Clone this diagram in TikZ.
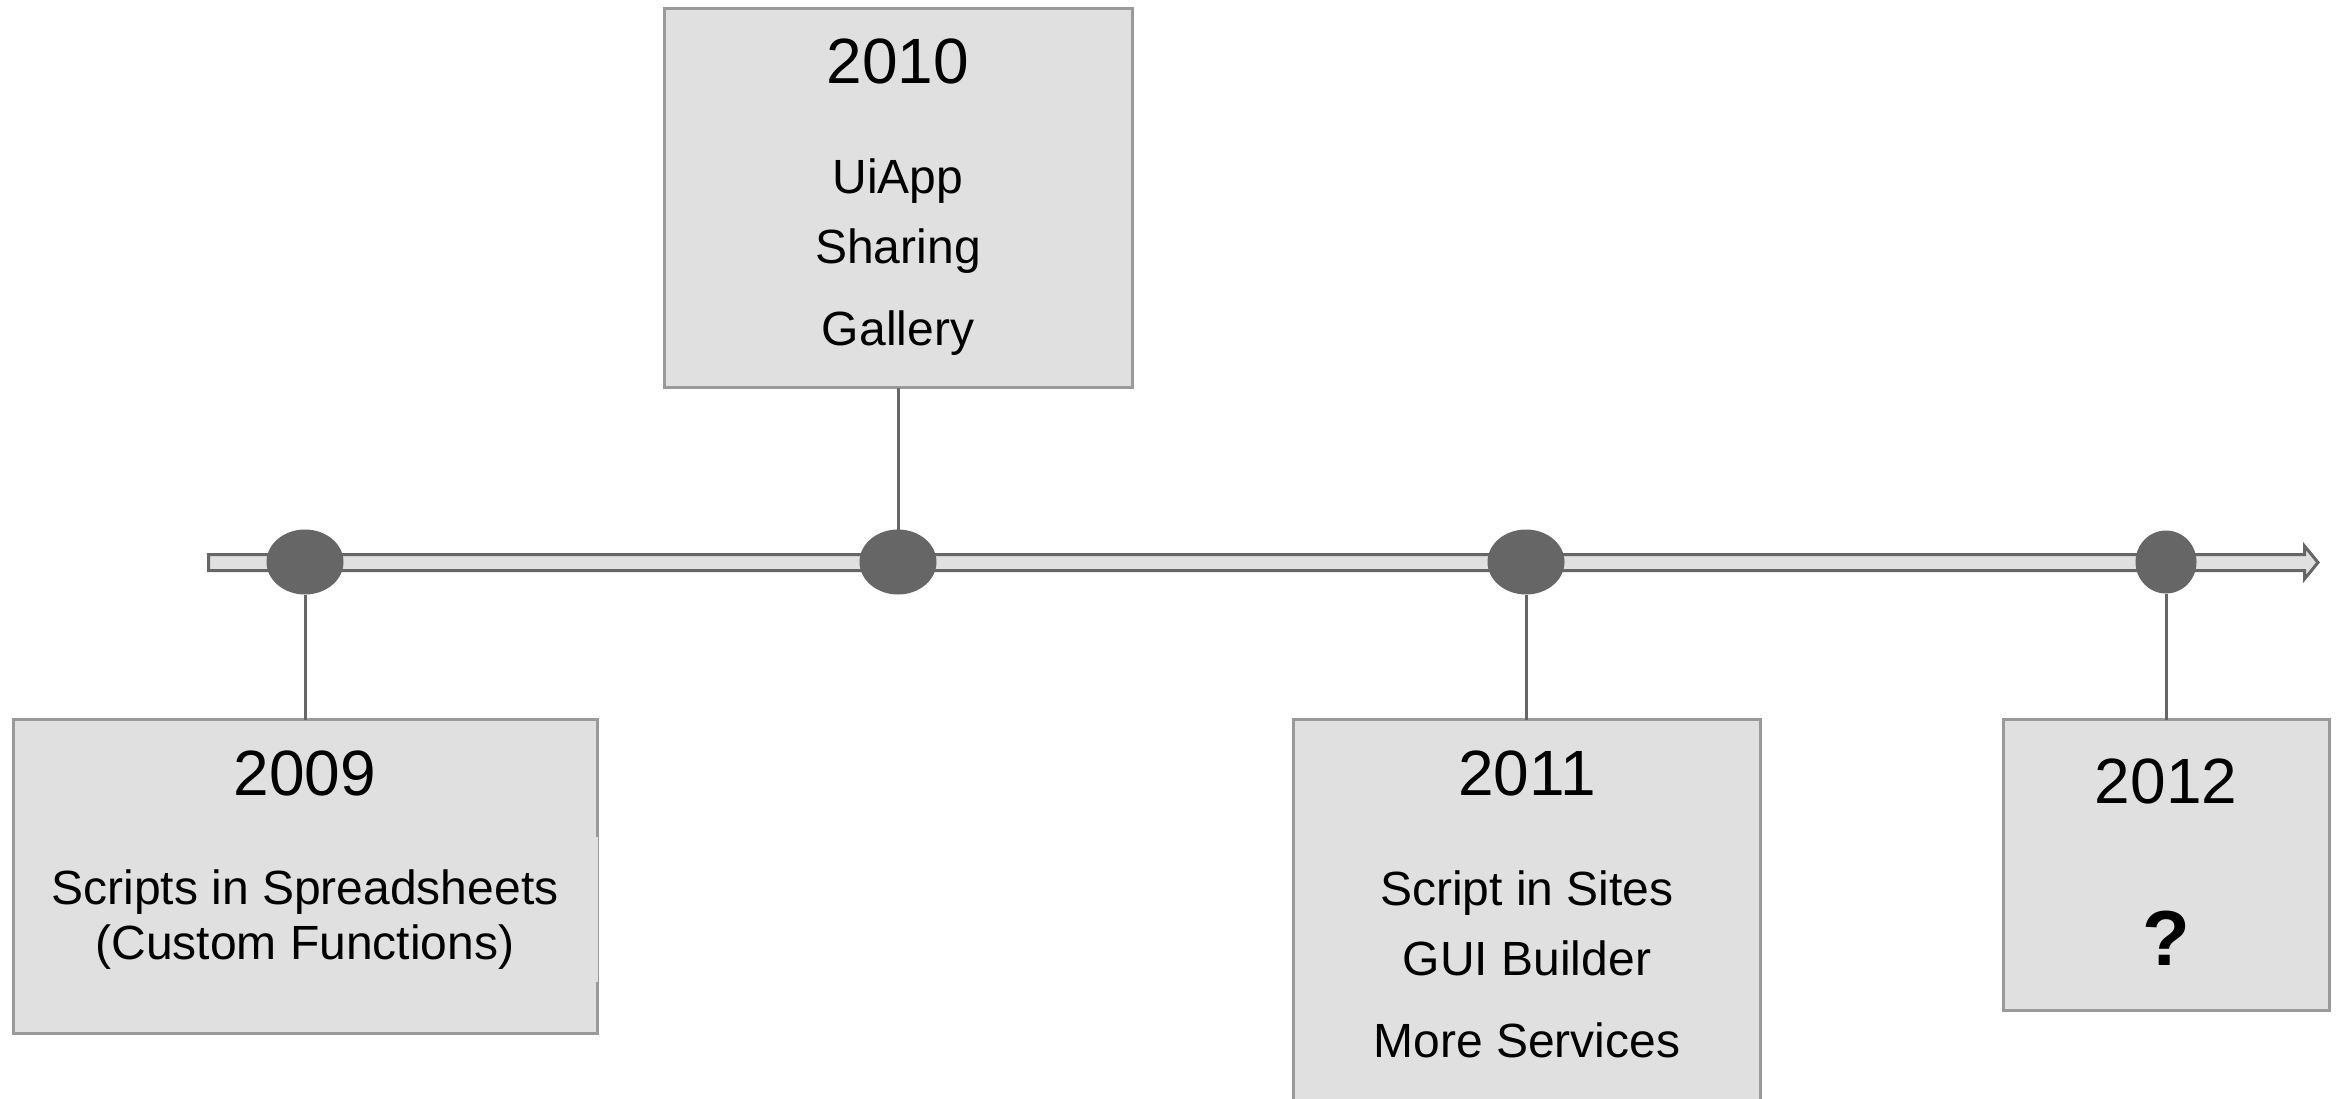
\documentclass[tikz,border=0pt]{standalone}
\usepackage{fontspec}
\setmainfont{Liberation Sans}
\usetikzlibrary{shapes.geometric}
\definecolor{boxfill}{HTML}{E0E0E0}
\definecolor{boxline}{HTML}{9A9A9A}
\definecolor{dark}{HTML}{666666}
\tikzset{
  yearbox/.style={draw=boxline, fill=boxfill, line width=3pt, rectangle, inner sep=0pt, outer sep=0pt},
  dot/.style={ellipse, fill=dark, draw=none, inner sep=0pt, outer sep=0pt},
  link/.style={draw=dark, line width=3pt},
  yeartext/.style={anchor=base, inner sep=0pt, font=\fontsize{64}{77}\selectfont},
  itemtext/.style={anchor=base, inner sep=0pt, font=\fontsize{48}{58}\selectfont},
  qtext/.style={anchor=base, inner sep=0pt, font=\fontsize{78}{90}\selectfont\bfseries},
}
\begin{document}
\begin{tikzpicture}[x=1pt,y=-1pt]
\clip (0,0) rectangle (2342,1099);
\fill[white] (0,0) rectangle (2342,1099);
% timeline bar with arrow head
\draw[draw=dark, fill=boxfill, line width=3pt, line join=miter]
  (208.5,554.5) -- (2304.5,554.5) -- (2304.5,546) -- (2318,562.5)
  -- (2304.5,579) -- (2304.5,570.5) -- (208.5,570.5) -- cycle;
% dots
\node[dot, minimum width=77pt, minimum height=65pt] (e09) at (305,562) {};
\node[dot, minimum width=77pt, minimum height=65pt] (e10) at (898,562) {};
\node[dot, minimum width=77pt, minimum height=65pt] (e11) at (1526,562) {};
\node[dot, minimum width=61pt, minimum height=63pt] (e12) at (2166,562) {};
% boxes
\node[yearbox, minimum width=584pt, minimum height=314pt] (b09) at (305.5,876.5) {};
\node[yearbox, minimum width=468pt, minimum height=379pt] (b10) at (898.5,198) {};
\node[yearbox, minimum width=467pt, minimum height=400pt] (b11) at (1527,919.5) {};
\node[yearbox, minimum width=326pt, minimum height=291pt] (b12) at (2166.5,865) {};
% inner text area of the 2009 box covering part of its border
\fill[boxfill] (14.5,837) rectangle (597.5,982);
% connectors
\draw[link] (b10.south -| e10) -- (e10.north);
\draw[link] (e09.south) -- (b09.north -| e09);
\draw[link] (e11.south) -- (b11.north -| e11);
\draw[link] (e12.south) -- (b12.north -| e12);
% texts
\node[yeartext] (y09) at (305,795) {2009};
\node[itemtext] (s09a) at (305,904) {Scripts in Spreadsheets};
\node[itemtext] (s09b) at (305,959) {(Custom Functions)};
\node[yeartext] (y10) at (898,84) {2010};
\node[itemtext] (s10a) at (898,194) {UiApp};
\node[itemtext] (s10b) at (898,264) {Sharing};
\node[itemtext] (s10c) at (898,345) {Gallery};
\node[yeartext] (y11) at (1527,795) {2011};
\node[itemtext] (s11a) at (1527,905) {Script in Sites};
\node[itemtext] (s11b) at (1527,975) {GUI Builder};
\node[itemtext] (s11c) at (1527,1057) {More Services};
\node[yeartext] (y12) at (2166,803) {2012};
\node[qtext] (q12) at (2166,965) {?};
\end{tikzpicture}
\end{document}
